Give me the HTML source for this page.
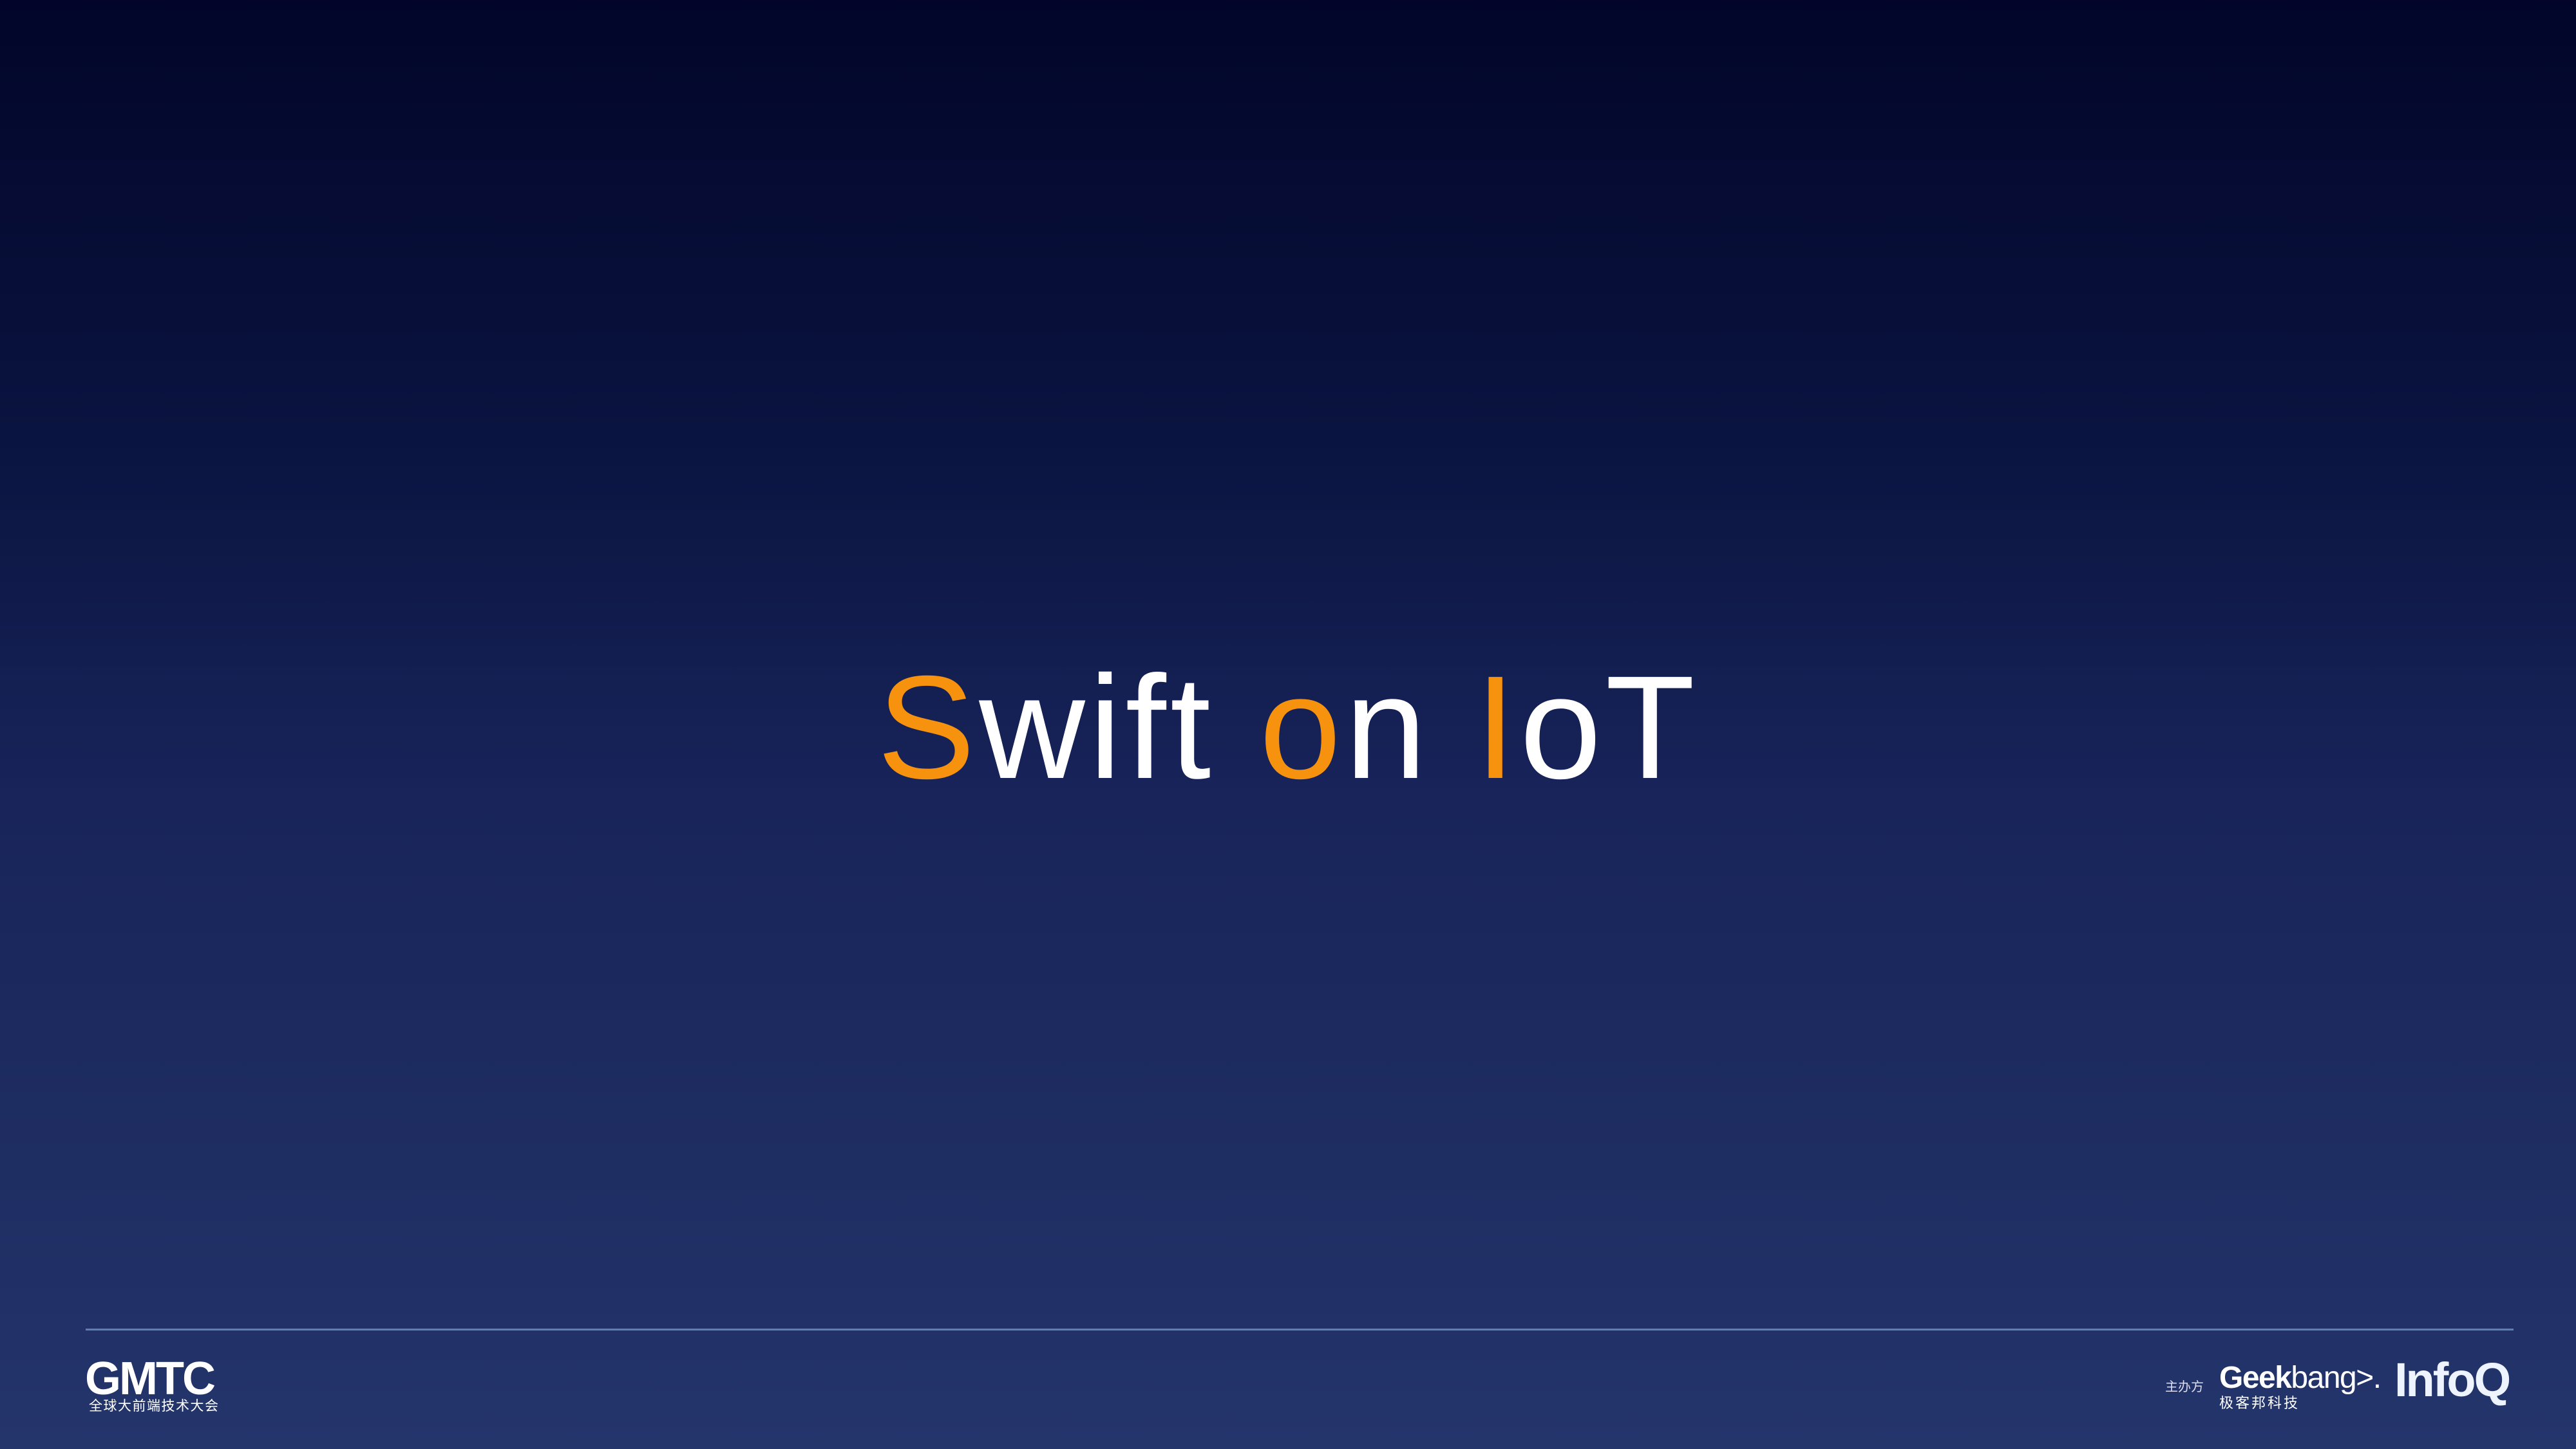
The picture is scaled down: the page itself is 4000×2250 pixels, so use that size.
<!DOCTYPE html>
<html><head><meta charset="utf-8"><style>
html,body{margin:0;padding:0}
body{width:4000px;height:2250px;overflow:hidden;position:relative;background:linear-gradient(to bottom,#020529 0%,#0a1440 30%,#18245a 55%,#1e2d62 80%,#24356c 100%);font-family:"Liberation Sans","Noto Sans CJK SC",sans-serif;color:#fff}
.t{position:absolute;left:0;width:4000px;top:980px;text-align:center;font-size:228px;line-height:300px;font-weight:400;letter-spacing:6px}
.o{color:#f7920f}
.line{position:absolute;left:133px;top:2063px;width:3770px;height:3px;background:#5f7fb0}
.abs{position:absolute;white-space:nowrap}
</style></head><body>
<div class="t"><span class="o">S</span>wift <span class="o">o</span>n <span class="o">I</span>oT</div>
<div class="line"></div>
<div class="abs" style="left:132px;top:2104px;font-size:72px;font-weight:700;letter-spacing:-3px;line-height:74px">GMTC</div>
<div class="abs" style="left:138px;top:2170px;font-size:21px;letter-spacing:1.5px;line-height:28px">全球大前端技术大会</div>
<div class="abs" style="left:3362px;top:2141px;font-size:20px;line-height:26px;color:#dde">主办方</div>
<div class="abs" style="left:3446px;top:2112px;font-size:48px;font-weight:700;line-height:56px;letter-spacing:-1.5px">Geek<span style="font-weight:400">bang&gt;.</span></div>
<div class="abs" style="left:3446px;top:2165px;font-size:22px;letter-spacing:3px;line-height:28px">极客邦科技</div>
<div class="abs" style="left:3718px;top:2100px;font-size:74px;font-weight:700;line-height:86px;letter-spacing:-3px;color:#eef4ff">InfoQ</div>
</body></html>
